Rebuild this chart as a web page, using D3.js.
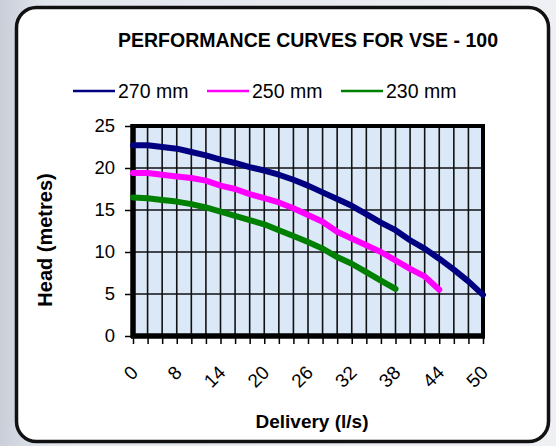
<!DOCTYPE html>
<html><head><meta charset="utf-8">
<script src="https://cdn.jsdelivr.net/npm/d3@7"></script>
<style>html,body{margin:0;padding:0;background:#fff;}svg{display:block;}</style>
</head><body>
<svg id="chart" width="556" height="446"></svg>
<script>
const categories = ["0","4","6","8","10","12","14","16","18","20","22","24","26","28","30","32","34","36","38","40","42","44","46","48","50"];
const shownLabels = ["0","8","14","20","26","32","38","44","50"];
const series270 = [22.7,22.7,22.5,22.3,21.9,21.5,21.0,20.6,20.1,19.7,19.2,18.6,17.9,17.1,16.3,15.5,14.5,13.5,12.6,11.4,10.4,9.2,7.9,6.5,4.9];
const series250 = [19.4,19.4,19.2,19.0,18.8,18.5,17.9,17.5,16.9,16.4,15.9,15.2,14.4,13.6,12.4,11.6,10.8,10.0,9.0,8.0,7.1,5.5];
const series230 = [16.5,16.4,16.2,16.0,15.7,15.3,14.8,14.3,13.8,13.3,12.6,11.9,11.2,10.4,9.4,8.6,7.6,6.6,5.6];
const seriesNames = ["270 mm","250 mm","230 mm"];
const seriesColors = ["#000080","#ff00ff","#008000"];
const yTicks = [0,5,10,15,20,25];
const titleText = "PERFORMANCE CURVES FOR VSE - 100";
const xTitle = "Delivery (l/s)";
const yTitle = "Head (metres)";

const svg = d3.select("#chart");
const font = "'Liberation Sans', Arial, sans-serif";

// page background
const defs = svg.append("defs");
const g1 = defs.append("linearGradient").attr("id","bg").attr("x1","0").attr("x2","1").attr("y1","0").attr("y2","0");
g1.append("stop").attr("offset","0").attr("stop-color","#c9ced8");
g1.append("stop").attr("offset","0.08").attr("stop-color","#e2e5ec");
g1.append("stop").attr("offset","1").attr("stop-color","#eef0f4");
svg.append("rect").attr("width",556).attr("height",446).attr("fill","url(#bg)");

// card
svg.append("rect").attr("x",16.5).attr("y",7.5).attr("width",532).attr("height",434)
  .attr("rx",20).attr("fill","#fff").attr("stroke","#111").attr("stroke-width",3.5);

const L = 133, R = 483, T = 126, B = 336;
const x = d3.scalePoint().domain(categories).range([L, R]);
const y = d3.scaleLinear().domain([0,25]).range([B, T]);

// plot background
svg.append("rect").attr("x",L).attr("y",T).attr("width",R-L).attr("height",B-T).attr("fill","#dbe8f7");

// gridlines
svg.append("g").selectAll("line").data(yTicks.filter(d=>d>0&&d<25)).join("line")
  .attr("x1",L).attr("x2",R).attr("y1",d=>y(d)).attr("y2",d=>y(d))
  .attr("stroke","#111").attr("stroke-width",1.6);
svg.append("g").selectAll("line").data(categories.slice(1,-1)).join("line")
  .attr("x1",d=>x(d)).attr("x2",d=>x(d)).attr("y1",T).attr("y2",B)
  .attr("stroke","#111").attr("stroke-width",1.6);

// plot border
svg.append("rect").attr("x",L).attr("y",T).attr("width",R-L).attr("height",B-T)
  .attr("fill","none").attr("stroke","#000").attr("stroke-width",4);
svg.append("line").attr("x1",L).attr("x2",L).attr("y1",T-2).attr("y2",B+2).attr("stroke","#000").attr("stroke-width",5.5);
svg.append("line").attr("x1",L-2).attr("x2",R+2).attr("y1",B).attr("y2",B).attr("stroke","#000").attr("stroke-width",5.5);

// y axis
const yAxis = d3.axisLeft(y).tickValues(yTicks).tickSize(6).tickPadding(10);
const ya = svg.append("g").attr("transform",`translate(${L-2},0)`).call(yAxis);
ya.select(".domain").remove();
ya.selectAll(".tick line").attr("stroke","#000").attr("stroke-width",1.5);
ya.selectAll("text").attr("font-family",font).attr("font-size",18.5).attr("fill","#000");

// x axis
const xAxis = d3.axisBottom(x).tickSize(6).tickFormat(d => shownLabels.includes(d) && categories.indexOf(d)%3===0 ? d : "");
const xa = svg.append("g").attr("transform",`translate(0,${B+2})`).call(xAxis);
xa.select(".domain").remove();
xa.selectAll(".tick line").attr("stroke","#000").attr("stroke-width",1.5);
xa.selectAll("text").attr("font-family",font).attr("font-size",19).attr("fill","#000")
  .attr("text-anchor","end").attr("dy","0.35em")
  .attr("transform","translate(1,31) rotate(-45)").attr("y",0).attr("x",0);

// lines
const lineGen = d3.line().x((d,i)=>x(categories[i])).y(d=>y(d)).curve(d3.curveLinear);
[series270, series250, series230].forEach((s,k)=>{
  svg.append("path").datum(s).attr("d",lineGen).attr("fill","none")
    .attr("stroke",seriesColors[k]).attr("stroke-width",6).attr("stroke-linejoin","round").attr("stroke-linecap","round");
});

// title
svg.append("text").attr("x",308).attr("y",47).attr("text-anchor","middle")
  .attr("font-family",font).attr("font-weight","bold").attr("font-size",19.5).attr("fill","#000").text(titleText);

// legend
const legX = [73, 207, 341];
seriesNames.forEach((n,k)=>{
  svg.append("line").attr("x1",legX[k]).attr("x2",legX[k]+42).attr("y1",91).attr("y2",91)
    .attr("stroke",seriesColors[k]).attr("stroke-width",2.5);
  svg.append("text").attr("x",legX[k]+45).attr("y",97.5).attr("font-family",font).attr("font-size",19.5)
    .attr("fill","#000").text(n);
});

// axis titles
svg.append("text").attr("x",312).attr("y",428).attr("text-anchor","middle")
  .attr("font-family",font).attr("font-weight","bold").attr("font-size",19).attr("fill","#000").text(xTitle);
svg.append("text").attr("transform","translate(52,240) rotate(-90)").attr("text-anchor","middle")
  .attr("font-family",font).attr("font-weight","bold").attr("font-size",20).attr("fill","#000").text(yTitle);
</script>
</body></html>
